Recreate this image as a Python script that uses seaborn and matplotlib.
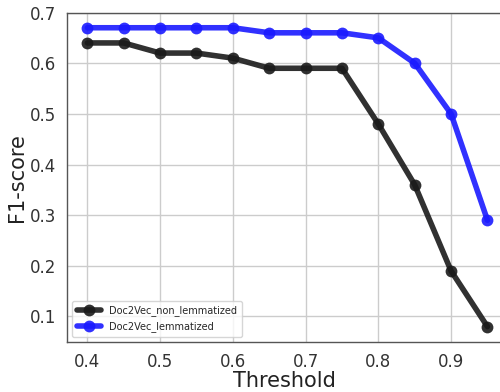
import matplotlib
matplotlib.use('Agg')
import matplotlib.pyplot as plt
import seaborn as sns
import pandas as pd

thresholds = [0.4, 0.45, 0.5, 0.55, 0.6, 0.65, 0.7, 0.75, 0.8, 0.85, 0.9, 0.95]
f1_non_lem = [0.64, 0.64, 0.62, 0.62, 0.61, 0.59, 0.59, 0.59, 0.48, 0.36, 0.19, 0.08]
f1_lem = [0.67, 0.67, 0.67, 0.67, 0.67, 0.66, 0.66, 0.66, 0.65, 0.60, 0.50, 0.29]
series_names = ['Doc2Vec_non_lemmatized', 'Doc2Vec_lemmatized']

df = pd.DataFrame({
    'Threshold': thresholds * 2,
    'F1-score': f1_non_lem + f1_lem,
    'model': [series_names[0]] * len(thresholds) + [series_names[1]] * len(thresholds),
})

sns.set_style('whitegrid')
plt.rcParams['font.family'] = ['DejaVu Sans']

fig = plt.figure(figsize=(5, 3.92), dpi=100)
ax = fig.add_axes([0.134, 0.128, 0.87, 0.84])

sns.lineplot(data=df, x='Threshold', y='F1-score', hue='model',
             palette=['#1a1a1a', '#1a1aff'], marker='o', markersize=8.5,
             markeredgewidth=0, linewidth=4, alpha=0.9, ax=ax)

ax.set_xlim(0.372, 0.97)
ax.set_ylim(0.05, 0.7)
ax.set_xticks([0.4, 0.5, 0.6, 0.7, 0.8, 0.9])
ax.set_yticks([0.1, 0.2, 0.3, 0.4, 0.5, 0.6, 0.7])
ax.tick_params(axis='both', labelsize=12, colors='#333333', length=0, pad=8)
ax.set_xlabel('Threshold', fontsize=15, color='#222222', labelpad=0)
ax.set_ylabel('F1-score', fontsize=15, color='#222222', labelpad=2)
ax.grid(True, color='#cccccc', linewidth=1)
for s in ['left', 'bottom', 'top']:
    ax.spines[s].set_color('#555555')
    ax.spines[s].set_linewidth(1)
ax.spines['right'].set_visible(False)

ax.legend(loc='lower left', fontsize=7, frameon=True, framealpha=0.8,
          edgecolor='#cccccc', handlelength=2.5, borderpad=0.5)

fig.savefig('out.png', dpi=100)
